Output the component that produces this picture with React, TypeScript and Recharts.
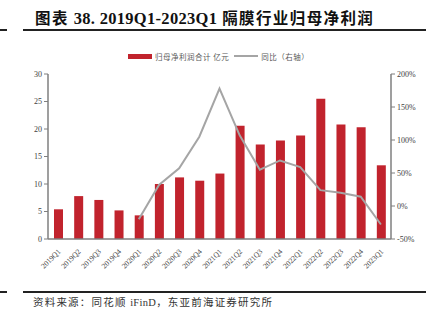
import { Bar, ComposedChart, Line, XAxis, YAxis } from "recharts";

const quarters = [
  "2019Q1", "2019Q2", "2019Q3", "2019Q4",
  "2020Q1", "2020Q2", "2020Q3", "2020Q4",
  "2021Q1", "2021Q2", "2021Q3", "2021Q4",
  "2022Q1", "2022Q2", "2022Q3", "2022Q4",
  "2023Q1",
];
const netProfit = [5.4, 7.8, 7.1, 5.2, 4.3, 10.0, 11.2, 10.6, 11.9, 20.6, 17.2, 17.9, 18.8, 25.5, 20.8, 20.3, 13.4];
const yoy = [null, null, null, null, -20, 32, 57, 105, 178, 107, 55, 69, 59, 24, 20, 14, -28];
const leftTicks = [0, 5, 10, 15, 20, 25, 30];
const rightTicks = [-50, 0, 50, 100, 150, 200];

const data = quarters.map((q, i) => ({ q, profit: netProfit[i], yoy: yoy[i] }));

const RED = "#C1232D";
const GRAY = "#A5A5A5";
const AXIS = "#7F7F7F";
const SERIF = "'Liberation Serif', 'Times New Roman', serif";
const CJK = "'Noto Sans CJK SC', sans-serif";

function QuarterTick({ x, y, payload }: any) {
  return (
    <text
      x={x + 3}
      y={y + 5}
      transform={`rotate(-45 ${x + 3} ${y + 5})`}
      textAnchor="end"
      fontSize={7.5}
      fontFamily={SERIF}
      fill="#404040"
    >
      {payload.value}
    </text>
  );
}

function ChartLegend() {
  return (
    <div style={{ position: "absolute", left: 128, top: 51, height: 10, display: "flex", alignItems: "center", fontFamily: CJK, fontSize: 7.5, letterSpacing: 0.5, color: "#595959", whiteSpace: "nowrap" }}>
      <span style={{ width: 24, height: 5, background: RED, display: "inline-block", marginRight: 3 }} />
      <span>归母净利润合计 亿元</span>
      <span style={{ width: 24, height: 1.5, background: GRAY, display: "inline-block", margin: "0 3px 0 5px" }} />
      <span>同比（右轴）</span>
    </div>
  );
}

export default function App() {
  return (
    <div style={{ position: "absolute", left: 0, top: 0, width: 436, height: 321, background: "#fff", overflow: "hidden" }}>
      <div style={{ position: "absolute", left: 35, top: 6, fontFamily: CJK, fontWeight: 700, fontSize: 15.5, letterSpacing: 1.4, color: "#111", whiteSpace: "nowrap", lineHeight: "22px" }}>
        图表 <span style={{ fontFamily: SERIF, fontSize: 16.5, letterSpacing: 0.3 }}>38. 2019Q1-2023Q1</span> 隔膜行业归母净利润
      </div>
      <div style={{ position: "absolute", left: 0, top: 29, width: 7, height: 1.5, background: "#222" }} />
      <div style={{ position: "absolute", left: 23, top: 29, width: 403, height: 1.5, background: "#222" }} />
      <ChartLegend />
      <ComposedChart
        width={436}
        height={321}
        data={data}
        margin={{ top: 74, right: 0, bottom: 42, left: 18 }}
        style={{ position: "absolute", left: 0, top: 0 }}
      >
        <XAxis
          dataKey="q"
          interval={0}
          height={40}
          tick={<QuarterTick />}
          tickLine={false}
          axisLine={{ stroke: AXIS, strokeWidth: 1.5 }}
        />
        <YAxis
          yAxisId="left"
          domain={[0, 30]}
          ticks={leftTicks}
          width={30}
          tickSize={4}
          tickLine={{ stroke: AXIS }}
          axisLine={{ stroke: AXIS, strokeWidth: 1.5 }}
          tick={{ fill: "#404040", fontSize: 8, fontFamily: SERIF }}
        />
        <YAxis
          yAxisId="right"
          orientation="right"
          domain={[-50, 200]}
          ticks={rightTicks}
          width={45}
          tickSize={4}
          tickLine={{ stroke: AXIS }}
          axisLine={{ stroke: AXIS, strokeWidth: 1.5 }}
          tickFormatter={(v) => `${v}%`}
          tick={{ fill: "#404040", fontSize: 8, fontFamily: SERIF }}
        />
        <Bar yAxisId="left" dataKey="profit" fill={RED} barSize={9} isAnimationActive={false} />
        <Line
          yAxisId="right"
          dataKey="yoy"
          type="linear"
          stroke={GRAY}
          strokeWidth={2}
          dot={false}
          connectNulls={false}
          isAnimationActive={false}
        />
      </ComposedChart>
      <div style={{ position: "absolute", left: 0, top: 291, width: 7, height: 1.5, background: "#222" }} />
      <div style={{ position: "absolute", left: 23, top: 291, width: 403, height: 1.5, background: "#222" }} />
      <div style={{ position: "absolute", left: 33, top: 294, fontFamily: CJK, fontSize: 10.5, letterSpacing: 1.2, color: "#333", whiteSpace: "nowrap", lineHeight: "15px" }}>
        资料来源：同花顺 <span style={{ fontFamily: SERIF, letterSpacing: 0.3 }}>iFinD</span>，东亚前海证券研究所
      </div>
    </div>
  );
}
